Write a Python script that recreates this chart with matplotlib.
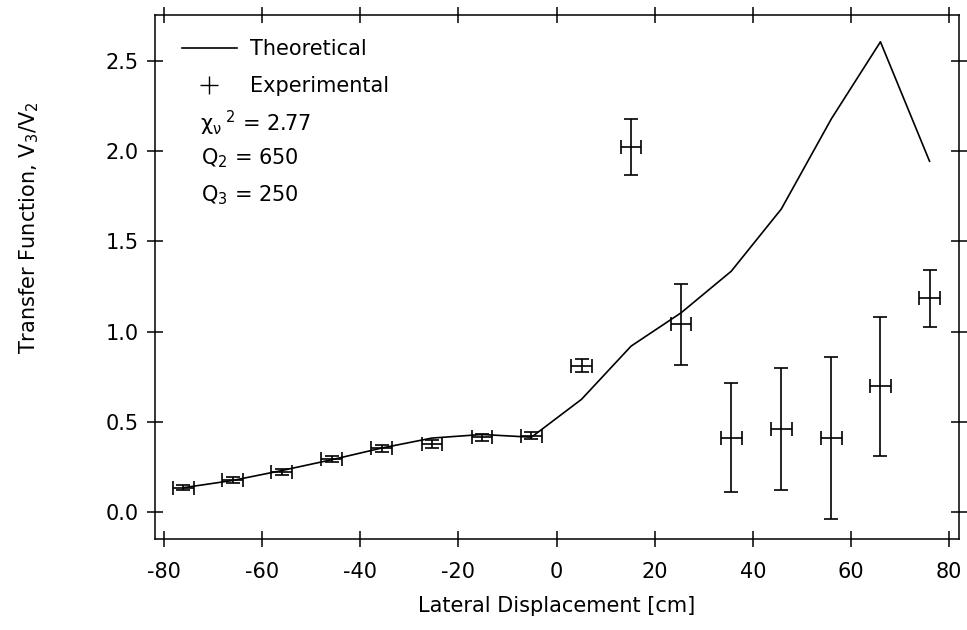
import matplotlib
matplotlib.use("Agg")
import matplotlib.pyplot as plt
from matplotlib.lines import Line2D

plt.rcParams['mathtext.fontset'] = 'dejavusans'
plt.rcParams['font.family'] = ['DejaVu Sans']

# Theoretical curve
theory_x = [-76, -66, -56, -45.8, -35.6, -25.4, -15.2, -5.1, 5.1, 15.2, 25.4, 35.6, 45.8, 56, 66, 76]
theory_y = [0.135, 0.175, 0.23, 0.29, 0.355, 0.41, 0.43, 0.415, 0.625, 0.92, 1.105, 1.335, 1.68, 2.18, 2.607, 1.945]

# Experimental data
exp_x = [-76, -66, -56, -45.8, -35.6, -25.4, -15.2, -5.1, 5.1, 15.2, 25.4, 35.6, 45.8, 56, 66, 76]
exp_y = [0.135, 0.177, 0.223, 0.294, 0.353, 0.377, 0.414, 0.423, 0.811, 2.025, 1.04, 0.412, 0.46, 0.412, 0.697, 1.185]
exp_yerr = [0.015, 0.015, 0.015, 0.015, 0.018, 0.022, 0.018, 0.018, 0.035, 0.155, 0.224, 0.302, 0.339, 0.448, 0.386, 0.157]
exp_xerr = [2.1] * 16

xticks = [-80, -60, -40, -20, 0, 20, 40, 60, 80]
yticks = [0.0, 0.5, 1.0, 1.5, 2.0, 2.5]

fig = plt.figure(figsize=(9.67, 6.3), dpi=100)
ax = fig.add_axes([0.1603, 0.144, 0.8314, 0.832])

ax.plot(theory_x, theory_y, color='black', lw=1.2)
ax.errorbar(exp_x, exp_y, yerr=exp_yerr, xerr=exp_xerr, fmt='none',
            ecolor='black', elinewidth=1.2, capsize=5, capthick=1.2)

ax.set_xlim(-81.8, 82.0)
ax.set_ylim(-0.151, 2.755)
ax.set_xticks(xticks)
ax.set_xticklabels([f"{t:d}" for t in xticks])
ax.set_yticks(yticks)
ax.set_yticklabels([f"{t:.1f}" for t in yticks])

for s in ax.spines.values():
    s.set_linewidth(1.1)
ax.tick_params(direction='inout', length=11, width=1.1, labelsize=15,
               top=True, right=True)
ax.tick_params(axis='x', pad=11)
ax.tick_params(axis='y', pad=6)

ax.set_xlabel('Lateral Displacement [cm]', fontsize=15, labelpad=10)
ax.set_ylabel('Transfer Function, V$_3$/V$_2$', fontsize=15)
ax.yaxis.set_label_coords(-0.142, 0.594)

handles = [Line2D([], [], color='black', lw=1.2),
           Line2D([], [], color='black', lw=0, marker='+', markersize=13, markeredgewidth=1.0)]
leg = ax.legend(handles, ['Theoretical', 'Experimental'], loc='upper left',
                frameon=False, fontsize=15, handlelength=2.6, handletextpad=0.65,
                borderaxespad=0.0, labelspacing=0.8, borderpad=0.0,
                bbox_to_anchor=(0.034, 0.954))

ax.text(0.056, 0.794, r'$\mathrm{\chi}_{\mathrm{\nu}}{}^{\ 2}$ = 2.77', transform=ax.transAxes,
        fontsize=15, va='center', ha='left')
ax.text(0.057, 0.727, r'Q$_2$ = 650', transform=ax.transAxes,
        fontsize=15, va='center', ha='left')
ax.text(0.057, 0.657, r'Q$_3$ = 250', transform=ax.transAxes,
        fontsize=15, va='center', ha='left')

fig.savefig('out.png', dpi=100)
